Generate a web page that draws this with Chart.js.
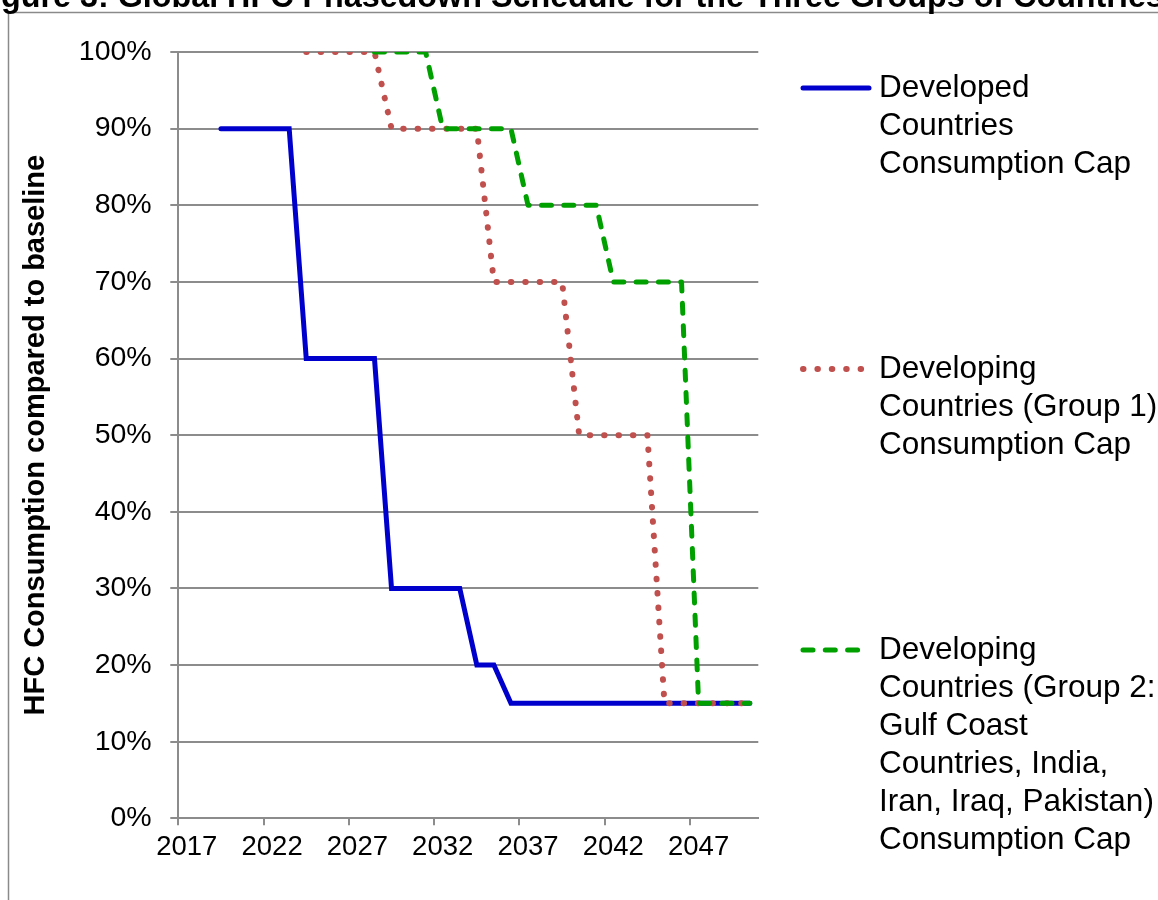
<!DOCTYPE html>
<html><head><meta charset="utf-8">
<script src="https://cdn.jsdelivr.net/npm/chart.js@4.4.0/dist/chart.umd.min.js"></script>
<style>html,body{margin:0;padding:0;background:#fff;} canvas{display:block;}</style>
</head><body>
<canvas id="c" width="1158" height="900"></canvas>
<script>
// ---- data ----
const years = ['2017','2018','2019','2020','2021','2022','2023','2024','2025','2026','2027','2028','2029','2030','2031','2032','2033','2034','2035','2036','2037','2038','2039','2040','2041','2042','2043','2044','2045','2046','2047','2048','2049','2050'];
const labeledYears = ['2017','2022','2027','2032','2037','2042','2047'];
const developed = [null,null,90,90,90,90,90,60,60,60,60,60,30,30,30,30,30,20,20,15,15,15,15,15,15,15,15,15,15,15,15,15,15,15];
const group1 = [null,null,null,null,null,null,null,100,100,100,100,100,90,90,90,90,90,90,70,70,70,70,70,50,50,50,50,50,15,15,15,15,15,15];
const group2 = [null,null,null,null,null,null,null,null,null,null,null,100,100,100,100,90,90,90,90,90,80,80,80,80,80,70,70,70,70,70,15,15,15,15];
const yTickValues = [0,10,20,30,40,50,60,70,80,90,100];
const legendDeveloped = ['Developed','Countries','Consumption Cap'];
const legendGroup1 = ['Developing','Countries (Group 1)','Consumption Cap'];
const legendGroup2 = ['Developing','Countries (Group 2:','Gulf Coast','Countries, India,','Iran, Iraq, Pakistan)','Consumption Cap'];
const titleText = 'Figure 3: Global HFC Phasedown Schedule for the Three Groups of Countries';
const yTitle = 'HFC Consumption compared to baseline';

const FONT = '"Liberation Sans", Arial, sans-serif';
const GRID = '#8c8c8c';
const styles = [
  {color:'#0000CC', dash:[], cap:'round', width:5},
  {color:'#C0504D', dash:[0.5, 13.9], cap:'round', width:6},
  {color:'#00A000', dash:[10, 12.3], cap:'round', width:5}
];

const framePlugin = {
  id:'frame',
  beforeDraw(chart){
    const ctx = chart.ctx;
    ctx.save();
    ctx.fillStyle = '#fff';
    ctx.fillRect(0,0,chart.width,chart.height);
    ctx.strokeStyle = '#8a8a8a';
    ctx.lineWidth = 1.5;
    ctx.beginPath();
    ctx.moveTo(8.5, 900); ctx.lineTo(8.5, 12.5); ctx.lineTo(1158, 12.5);
    ctx.stroke();
    ctx.fillStyle = '#000';
    ctx.font = 'bold 32.3px ' + FONT;
    ctx.textBaseline = 'alphabetic';
    ctx.textAlign = 'left';
    ctx.fillText(titleText, -27.7, 7);
    ctx.restore();
  }
};

const legendPlugin = {
  id:'customLegend',
  afterDraw(chart){
    const ctx = chart.ctx;
    const tops = [88, 369, 650];
    const texts = [legendDeveloped, legendGroup1, legendGroup2];
    ctx.save();
    texts.forEach((lines, i) => {
      const y = tops[i];
      const st = styles[i];
      ctx.strokeStyle = st.color;
      ctx.lineWidth = st.width;
      ctx.lineCap = st.cap;
      ctx.setLineDash(st.dash);
      ctx.beginPath();
      ctx.moveTo(803, y); ctx.lineTo(869, y);
      ctx.stroke();
      ctx.setLineDash([]);
      ctx.fillStyle = '#000';
      ctx.font = '31.5px ' + FONT;
      ctx.textBaseline = 'middle';
      ctx.textAlign = 'left';
      lines.forEach((t, k) => ctx.fillText(t, 879, y + k * 38));
    });
    ctx.restore();
  }
};

new Chart(document.getElementById('c'), {
  type:'line',
  data:{
    labels: years,
    datasets:[
      {label: legendDeveloped.join(' '), data: developed, borderColor: styles[0].color, borderWidth:styles[0].width, borderCapStyle:'round', borderJoinStyle:'miter', pointRadius:0, tension:0, order:2},
      {label: legendGroup1.join(' '), data: group1, borderColor: styles[1].color, borderWidth:styles[1].width, borderDash: styles[1].dash, borderCapStyle:'round', borderJoinStyle:'round', pointRadius:0, tension:0, order:1},
      {label: legendGroup2.join(' '), data: group2, borderColor: styles[2].color, borderWidth:styles[2].width, borderDash: styles[2].dash, borderCapStyle:'round', borderJoinStyle:'round', pointRadius:0, tension:0, order:0}
    ]
  },
  options:{
    responsive:false,
    animation:false,
    devicePixelRatio:1,
    layout:{padding:{top:52, right:399.7, bottom:0, left:0}},
    plugins:{legend:{display:false}, tooltip:{enabled:false}, title:{display:false}},
    scales:{
      x:{
        type:'category',
        offset:true,
        grid:{drawOnChartArea:false, offset:true, tickLength:7, lineWidth:2,
          tickColor:(ctx)=> (ctx.index % 5 === 0 ? GRID : 'rgba(0,0,0,0)')},
        border:{display:true, color:GRID, width:2},
        ticks:{autoSkip:false, maxRotation:0, minRotation:0, padding:6, color:'#000',
          font:{family:FONT, size:27.5},
          callback:function(v, i){ const l = years[i]; return labeledYears.includes(l) ? l : ''; }},
        afterFit:(s)=>{ s.height = 900 - 818.3; }
      },
      y:{
        min:0, max:100,
        afterBuildTicks:(s)=>{ s.ticks = yTickValues.map(v=>({value:v})); },
        grid:{color:GRID, lineWidth:2, tickLength:8, tickColor:GRID},
        border:{display:true, color:GRID, width:2},
        ticks:{padding:18.6, color:'#000', font:{family:FONT, size:28.5}, callback:(v)=> v + '%'},
        title:{display:true, text:yTitle, color:'#000', font:{family:FONT, size:29, weight:'bold'}, padding:{top:19, bottom:0}},
        afterFit:(s)=>{ s.width = 178.3; }
      }
    }
  },
  plugins:[framePlugin, legendPlugin]
});
</script>
</body></html>
